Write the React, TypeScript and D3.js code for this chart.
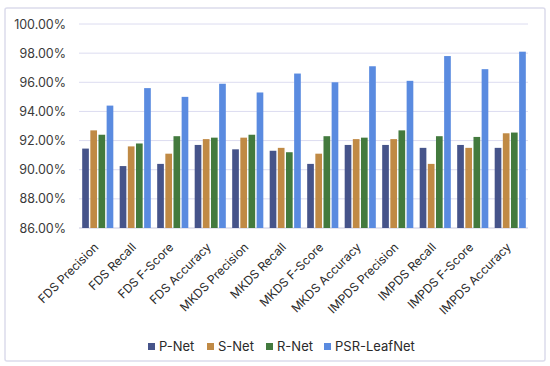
import React from "react";
import * as d3 from "d3";

const categories = [
  "FDS Precision", "FDS Recall", "FDS F-Score", "FDS Accuracy",
  "MKDS Precision", "MKDS Recall", "MKDS F-Score", "MKDS Accuracy",
  "IMPDS Precision", "IMPDS Recall", "IMPDS F-Score", "IMPDS Accuracy",
];
const seriesNames = ["P-Net", "S-Net", "R-Net", "PSR-LeafNet"];
const pNet = [91.45, 90.25, 90.4, 91.7, 91.4, 91.3, 90.4, 91.7, 91.7, 91.5, 91.7, 91.5];
const sNet = [92.7, 91.6, 91.1, 92.1, 92.2, 91.5, 91.1, 92.1, 92.1, 90.4, 91.5, 92.5];
const rNet = [92.4, 91.8, 92.3, 92.2, 92.4, 91.2, 92.3, 92.2, 92.7, 92.3, 92.25, 92.55];
const psrLeafNet = [94.4, 95.6, 95.0, 95.9, 95.3, 96.6, 96.0, 97.1, 96.1, 97.8, 96.9, 98.1];
const yTicks = [86, 88, 90, 92, 94, 96, 98, 100];

const seriesValues = [pNet, sNet, rNet, psrLeafNet];
const colors = ["#46548a", "#c08a45", "#437a3e", "#5a8be0"];

export default function App() {
  const W = 550, H = 366;
  const x0 = 79, x1 = 529, yTop = 24, yBot = 228;
  const x = d3.scaleBand<string>().domain(categories).range([x0, x1]).paddingInner(0.17).paddingOuter(0.085);
  const xs = d3.scaleBand<string>().domain(seriesNames).range([0, x.bandwidth()]).paddingInner(0.18);
  const y = d3.scaleLinear().domain([86, 100]).range([yBot, yTop]);
  const font = "Inter, 'Open Sans', sans-serif";
  const legendX = [148, 207, 266, 324];
  return (
    <svg width={W} height={H} style={{ position: "absolute", left: 0, top: 0 }}>
      <rect x={0} y={0} width={W} height={H} fill="#fff" />
      <rect x={5} y={8} width={540} height={353} fill="#fff" stroke="#dcdcec" strokeWidth={1.5} rx={2} />
      {yTicks.map((t) => (
        <g key={t}>
          <line x1={x0} x2={x1 - 1} y1={y(t)} y2={y(t)} stroke={t === 86 ? "#c9c9e0" : "#dcdcf0"} strokeWidth={1} />
          <text x={66} y={y(t)} dy="0.36em" textAnchor="end" fontFamily={font} fontSize={12.5} fill="#3a3a3a">
            {t.toFixed(2) + "%"}
          </text>
        </g>
      ))}
      {categories.map((c, i) => (
        <g key={c}>
          {seriesValues.map((vals, s) => (
            <rect
              key={s}
              x={(x(c) as number) + (xs(seriesNames[s]) as number)}
              y={y(vals[i])}
              width={xs.bandwidth()}
              height={y(86) - y(vals[i])}
              fill={colors[s]}
            />
          ))}
          <text
            transform={`translate(${(x(c) as number) + x.bandwidth() / 2 + 1.5},${248}) rotate(-45)`}
            textAnchor="end"
            fontFamily={font}
            fontSize={12}
            fill="#2a2a2a"
          >
            {c}
          </text>
        </g>
      ))}
      {seriesNames.map((n, s) => (
        <g key={n}>
          <rect x={legendX[s]} y={343} width={7} height={7} fill={colors[s]} />
          <text x={legendX[s] + 11} y={346.5} dy="0.36em" fontFamily={font} fontSize={13} fill="#2a2a2a">
            {n}
          </text>
        </g>
      ))}
    </svg>
  );
}
